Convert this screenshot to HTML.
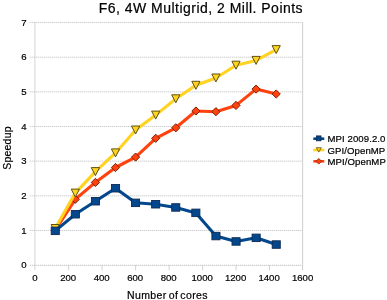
<!DOCTYPE html>
<html><head><meta charset="utf-8"><title>chart</title>
<style>
html,body{margin:0;padding:0;background:#fff;}
body{width:387px;height:300px;position:relative;overflow:hidden;will-change:transform;-webkit-text-stroke:0.2px #000;font-family:"Liberation Sans",sans-serif;color:#000;}
.t{position:absolute;white-space:nowrap;}
.title{left:98.7px;top:-0.3px;font-size:14px;line-height:16px;letter-spacing:0.48px;}
.yl{position:absolute;left:0;width:26.5px;text-align:right;font-size:9.6px;line-height:12px;}
.xl{position:absolute;top:272px;width:40px;text-align:center;font-size:9.6px;line-height:12px;}
.lg{position:absolute;left:327.5px;font-size:9.6px;line-height:12px;white-space:nowrap;letter-spacing:0.08px;}
.xt{position:absolute;left:127px;top:289px;font-size:10.5px;line-height:12px;white-space:nowrap;letter-spacing:0.4px;word-spacing:-1.3px;}
.yt{position:absolute;left:6.5px;top:148px;font-size:10.5px;line-height:12px;white-space:nowrap;letter-spacing:0.2px;transform:translate(-50%,-50%) rotate(-90deg);}
</style></head><body>
<svg width="387" height="300" viewBox="0 0 387 300" style="position:absolute;left:0;top:0">
<line x1="29.7" y1="230.49" x2="302.7" y2="230.49" stroke="#cacaca" stroke-width="0.9" stroke-dasharray="1.4,0.6"/>
<line x1="29.7" y1="195.83" x2="302.7" y2="195.83" stroke="#cacaca" stroke-width="0.9" stroke-dasharray="1.4,0.6"/>
<line x1="29.7" y1="161.17" x2="302.7" y2="161.17" stroke="#cacaca" stroke-width="0.9" stroke-dasharray="1.4,0.6"/>
<line x1="29.7" y1="126.51" x2="302.7" y2="126.51" stroke="#cacaca" stroke-width="0.9" stroke-dasharray="1.4,0.6"/>
<line x1="29.7" y1="91.85" x2="302.7" y2="91.85" stroke="#cacaca" stroke-width="0.9" stroke-dasharray="1.4,0.6"/>
<line x1="29.7" y1="57.19" x2="302.7" y2="57.19" stroke="#cacaca" stroke-width="0.9" stroke-dasharray="1.4,0.6"/>
<line x1="29.7" y1="22.53" x2="302.7" y2="22.53" stroke="#cacaca" stroke-width="0.9" stroke-dasharray="1.4,0.6"/>
<line x1="29.7" y1="265.3" x2="302.7" y2="265.3" stroke="#c2c2c2" stroke-width="1" stroke-dasharray="1.4,0.6"/>
<line x1="34.9" y1="22.2" x2="34.9" y2="270.3" stroke="#c2c2c2" stroke-width="1" stroke-dasharray="1.4,0.6"/>
<line x1="302.6" y1="22.2" x2="302.6" y2="270.3" stroke="#d2d2d2" stroke-width="1.1"/>
<line x1="68.6" y1="265.3" x2="68.6" y2="270.3" stroke="#c2c2c2" stroke-width="1" stroke-dasharray="1.4,0.6"/>
<line x1="102.1" y1="265.3" x2="102.1" y2="270.3" stroke="#c2c2c2" stroke-width="1" stroke-dasharray="1.4,0.6"/>
<line x1="135.6" y1="265.3" x2="135.6" y2="270.3" stroke="#c2c2c2" stroke-width="1" stroke-dasharray="1.4,0.6"/>
<line x1="169.1" y1="265.3" x2="169.1" y2="270.3" stroke="#c2c2c2" stroke-width="1" stroke-dasharray="1.4,0.6"/>
<line x1="202.6" y1="265.3" x2="202.6" y2="270.3" stroke="#c2c2c2" stroke-width="1" stroke-dasharray="1.4,0.6"/>
<line x1="236.0" y1="265.3" x2="236.0" y2="270.3" stroke="#c2c2c2" stroke-width="1" stroke-dasharray="1.4,0.6"/>
<line x1="269.5" y1="265.3" x2="269.5" y2="270.3" stroke="#c2c2c2" stroke-width="1" stroke-dasharray="1.4,0.6"/>
<polyline fill="none" stroke="#ff420e" stroke-width="3.1" stroke-linejoin="round" stroke-linecap="round" points="55.2,230.2 75.3,199.3 95.4,182.4 115.5,167.5 135.6,157.1 155.7,138.3 175.8,127.8 195.9,111.0 215.9,111.7 236.0,105.4 256.1,89.1 276.2,94.0"/>
<path d="M55.2 226.1 l4.1 4.1 l-4.1 4.1 l-4.1 -4.1 z" fill="#ff420e" stroke="#7d2408" stroke-width="1"/>
<path d="M75.3 195.2 l4.1 4.1 l-4.1 4.1 l-4.1 -4.1 z" fill="#ff420e" stroke="#7d2408" stroke-width="1"/>
<path d="M95.4 178.3 l4.1 4.1 l-4.1 4.1 l-4.1 -4.1 z" fill="#ff420e" stroke="#7d2408" stroke-width="1"/>
<path d="M115.5 163.4 l4.1 4.1 l-4.1 4.1 l-4.1 -4.1 z" fill="#ff420e" stroke="#7d2408" stroke-width="1"/>
<path d="M135.6 153.0 l4.1 4.1 l-4.1 4.1 l-4.1 -4.1 z" fill="#ff420e" stroke="#7d2408" stroke-width="1"/>
<path d="M155.7 134.2 l4.1 4.1 l-4.1 4.1 l-4.1 -4.1 z" fill="#ff420e" stroke="#7d2408" stroke-width="1"/>
<path d="M175.8 123.7 l4.1 4.1 l-4.1 4.1 l-4.1 -4.1 z" fill="#ff420e" stroke="#7d2408" stroke-width="1"/>
<path d="M195.9 106.9 l4.1 4.1 l-4.1 4.1 l-4.1 -4.1 z" fill="#ff420e" stroke="#7d2408" stroke-width="1"/>
<path d="M215.9 107.6 l4.1 4.1 l-4.1 4.1 l-4.1 -4.1 z" fill="#ff420e" stroke="#7d2408" stroke-width="1"/>
<path d="M236.0 101.3 l4.1 4.1 l-4.1 4.1 l-4.1 -4.1 z" fill="#ff420e" stroke="#7d2408" stroke-width="1"/>
<path d="M256.1 85.0 l4.1 4.1 l-4.1 4.1 l-4.1 -4.1 z" fill="#ff420e" stroke="#7d2408" stroke-width="1"/>
<path d="M276.2 89.9 l4.1 4.1 l-4.1 4.1 l-4.1 -4.1 z" fill="#ff420e" stroke="#7d2408" stroke-width="1"/>
<polyline fill="none" stroke="#ffd320" stroke-width="3.1" stroke-linejoin="round" stroke-linecap="round" points="55.2,228.5 75.3,193.1 95.4,171.6 115.5,152.9 135.6,130.0 155.7,115.1 175.8,98.8 195.9,85.3 215.9,78.0 236.0,65.2 256.1,60.4 276.2,49.6"/>
<path d="M51.1 224.5 l8.2 0 l-4.1 8 z" fill="#ffd320" stroke="#5f5210" stroke-width="1" stroke-linejoin="miter"/>
<path d="M71.2 189.1 l8.2 0 l-4.1 8 z" fill="#ffd320" stroke="#5f5210" stroke-width="1" stroke-linejoin="miter"/>
<path d="M91.3 167.6 l8.2 0 l-4.1 8 z" fill="#ffd320" stroke="#5f5210" stroke-width="1" stroke-linejoin="miter"/>
<path d="M111.4 148.9 l8.2 0 l-4.1 8 z" fill="#ffd320" stroke="#5f5210" stroke-width="1" stroke-linejoin="miter"/>
<path d="M131.5 126.0 l8.2 0 l-4.1 8 z" fill="#ffd320" stroke="#5f5210" stroke-width="1" stroke-linejoin="miter"/>
<path d="M151.6 111.1 l8.2 0 l-4.1 8 z" fill="#ffd320" stroke="#5f5210" stroke-width="1" stroke-linejoin="miter"/>
<path d="M171.7 94.8 l8.2 0 l-4.1 8 z" fill="#ffd320" stroke="#5f5210" stroke-width="1" stroke-linejoin="miter"/>
<path d="M191.8 81.3 l8.2 0 l-4.1 8 z" fill="#ffd320" stroke="#5f5210" stroke-width="1" stroke-linejoin="miter"/>
<path d="M211.8 74.0 l8.2 0 l-4.1 8 z" fill="#ffd320" stroke="#5f5210" stroke-width="1" stroke-linejoin="miter"/>
<path d="M231.9 61.2 l8.2 0 l-4.1 8 z" fill="#ffd320" stroke="#5f5210" stroke-width="1" stroke-linejoin="miter"/>
<path d="M252.0 56.4 l8.2 0 l-4.1 8 z" fill="#ffd320" stroke="#5f5210" stroke-width="1" stroke-linejoin="miter"/>
<path d="M272.1 45.6 l8.2 0 l-4.1 8 z" fill="#ffd320" stroke="#5f5210" stroke-width="1" stroke-linejoin="miter"/>
<polyline fill="none" stroke="#03488c" stroke-width="3.1" stroke-linejoin="round" stroke-linecap="round" points="55.2,230.9 75.3,214.3 95.4,201.3 115.5,188.3 135.6,202.8 155.7,204.2 175.8,207.5 195.9,212.9 215.9,236.1 236.0,241.5 256.1,237.8 276.2,244.5"/>
<rect x="51.2" y="227.1" width="8.1" height="7.5" fill="#03488c" stroke="#0f2a52" stroke-width="0.9"/>
<rect x="71.3" y="210.5" width="8.1" height="7.5" fill="#03488c" stroke="#0f2a52" stroke-width="0.9"/>
<rect x="91.4" y="197.5" width="8.1" height="7.5" fill="#03488c" stroke="#0f2a52" stroke-width="0.9"/>
<rect x="111.5" y="184.5" width="8.1" height="7.5" fill="#03488c" stroke="#0f2a52" stroke-width="0.9"/>
<rect x="131.5" y="199.1" width="8.1" height="7.5" fill="#03488c" stroke="#0f2a52" stroke-width="0.9"/>
<rect x="151.6" y="200.5" width="8.1" height="7.5" fill="#03488c" stroke="#0f2a52" stroke-width="0.9"/>
<rect x="171.7" y="203.7" width="8.1" height="7.5" fill="#03488c" stroke="#0f2a52" stroke-width="0.9"/>
<rect x="191.8" y="209.1" width="8.1" height="7.5" fill="#03488c" stroke="#0f2a52" stroke-width="0.9"/>
<rect x="211.9" y="232.3" width="8.1" height="7.5" fill="#03488c" stroke="#0f2a52" stroke-width="0.9"/>
<rect x="232.0" y="237.7" width="8.1" height="7.5" fill="#03488c" stroke="#0f2a52" stroke-width="0.9"/>
<rect x="252.1" y="234.1" width="8.1" height="7.5" fill="#03488c" stroke="#0f2a52" stroke-width="0.9"/>
<rect x="272.2" y="240.8" width="8.1" height="7.5" fill="#03488c" stroke="#0f2a52" stroke-width="0.9"/>
<line x1="313.3" y1="138.7" x2="324.3" y2="138.7" stroke="#004586" stroke-width="2.6"/><rect x="316.4" y="135.9" width="4.6" height="4.9" fill="#004586" stroke="#0f2a52" stroke-width="0.8"/>
<line x1="313.3" y1="150" x2="324.3" y2="150" stroke="#ffd320" stroke-width="2.6"/><path d="M316.3 147.7 l5 0 l-2.5 4.4 z" fill="#ffd320" stroke="#5f5210" stroke-width="0.8"/>
<line x1="313.3" y1="161.3" x2="324.3" y2="161.3" stroke="#ff420e" stroke-width="2.6"/><path d="M318.8 158.5 l2.8 2.8 l-2.8 2.8 l-2.8 -2.8 z" fill="#ff420e" stroke="#7d2408" stroke-width="0.8"/>
</svg>
<div class="t title">F6, 4W Multigrid, 2 Mill. Points</div>
<div class="yl" style="top:259.4px">0</div>
<div class="yl" style="top:224.7px">1</div>
<div class="yl" style="top:190.1px">2</div>
<div class="yl" style="top:155.4px">3</div>
<div class="yl" style="top:120.8px">4</div>
<div class="yl" style="top:86.1px">5</div>
<div class="yl" style="top:51.4px">6</div>
<div class="yl" style="top:16.8px">7</div>
<div class="xl" style="left:14.8px">0</div>
<div class="xl" style="left:48.2px">200</div>
<div class="xl" style="left:81.7px">400</div>
<div class="xl" style="left:115.2px">600</div>
<div class="xl" style="left:148.7px">800</div>
<div class="xl" style="left:182.2px">1000</div>
<div class="xl" style="left:215.6px">1200</div>
<div class="xl" style="left:249.1px">1400</div>
<div class="xl" style="left:282.6px">1600</div>
<div class="lg" style="top:133px">MPI 2009.2.0</div>
<div class="lg" style="top:144.5px">GPI/OpenMP</div>
<div class="lg" style="top:156px">MPI/OpenMP</div>
<div class="xt">Number of cores</div>
<div class="yt">Speedup</div>
</body></html>
